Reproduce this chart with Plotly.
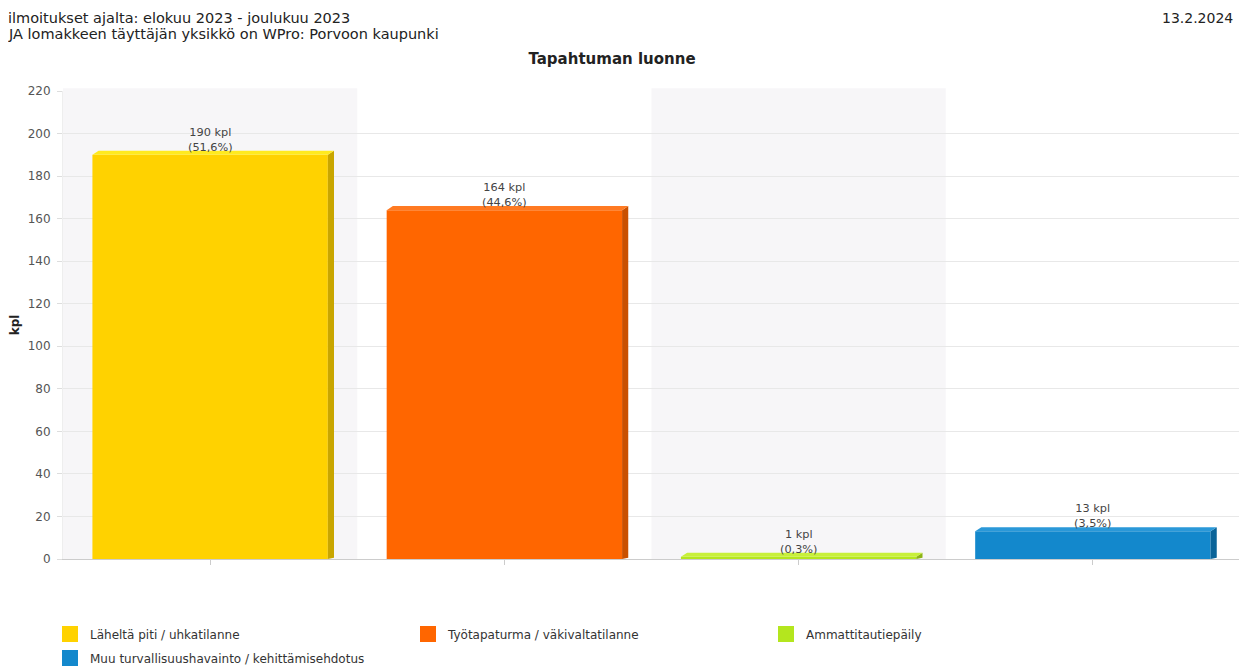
import plotly.graph_objects as go

categories = ["Läheltä piti / uhkatilanne", "Työtapaturma / väkivaltatilanne",
              "Ammattitautiepäily", "Muu turvallisuushavainto / kehittämisehdotus"]
values = [190, 164, 1, 13]
percent_labels = ["51,6%", "44,6%", "0,3%", "3,5%"]
front_colors = ["#FFD200", "#FF6600", "#B4E61E", "#1388CC"]
top_colors = ["#FFEA1F", "#FF7A22", "#C8F03A", "#2A98D8"]
side_colors = ["#C9A600", "#C95000", "#8DB415", "#0B6499"]
y_ticks = list(range(0, 221, 20))

FONT = "DejaVu Sans"
BAR_W = 0.8
DX = 0.021   # depth offset in x (category units)
DY = 1.9     # depth offset in y (value units)

# figure geometry (page body has an 8px margin)
W, H = 1239, 659
L, R, T, B = 55, 7, 83, 108
PH = H - T - B
PW = W - L - R

fig = go.Figure()

for i in range(len(categories)):
    if i % 2 == 0:
        fig.add_shape(type="rect", xref="x", yref="paper", x0=i - 0.5, x1=i + 0.5,
                      y0=0, y1=1.006, fillcolor="#F7F6F8", line_width=0, layer="below")

for i, (cat, v) in enumerate(zip(categories, values)):
    fig.add_trace(go.Bar(x=[i], y=[v], width=BAR_W, name=cat,
                         marker=dict(color=front_colors[i], line_width=0),
                         hoverinfo="skip", showlegend=False))
    xl, xr = i - BAR_W / 2, i + BAR_W / 2
    fig.add_trace(go.Scatter(x=[xr, xr + DX, xr + DX, xr, xr],
                             y=[0, DY * 0.3, v + DY, v, 0],
                             fill="toself", fillcolor=side_colors[i], mode="lines",
                             line=dict(width=0, color=side_colors[i]),
                             showlegend=False, hoverinfo="skip"))
    fig.add_trace(go.Scatter(x=[xl, xl + DX, xr + DX, xr, xl],
                             y=[v, v + DY, v + DY, v, v],
                             fill="toself", fillcolor=top_colors[i], mode="lines",
                             line=dict(width=0, color=top_colors[i]),
                             showlegend=False, hoverinfo="skip"))
    fig.add_annotation(x=i, y=v, xref="x", yref="y", yanchor="bottom",
                       text=f"{v} kpl<br>({percent_labels[i]})", showarrow=False,
                       yshift=-1, font=dict(family=FONT, size=11.3, color="#444444"))

# legend entries (square swatches)
for i, cat in enumerate(categories):
    fig.add_trace(go.Scatter(x=[None], y=[None], mode="markers", name=cat,
                             marker=dict(symbol="square", size=16, color=front_colors[i]),
                             showlegend=True, hoverinfo="skip",
                             legend="legend" if i < 3 else "legend2"))

legend_common = dict(orientation="h", xanchor="left", yanchor="middle",
                     xref="container", yref="container",
                     entrywidth=313, entrywidthmode="pixels", traceorder="normal",
                     font=dict(family=FONT, size=12, color="#333333"), itemwidth=30)

fig.update_layout(
    width=W, height=H,
    margin=dict(l=L, r=R, t=T, b=B),
    paper_bgcolor="white", plot_bgcolor="white",
    font=dict(family=FONT, size=11, color="#444444"),
    title=dict(text="<b>Tapahtuman luonne</b>", x=604 / W, xanchor="center", xref="container",
               y=1 - 51 / H, yanchor="middle", yref="container",
               font=dict(family=FONT, size=15, color="#222222")),
    xaxis=dict(range=[-0.5, len(categories) - 0.5], tickvals=list(range(len(categories))),
               ticktext=["" for _ in categories], ticks="outside", ticklen=5,
               tickcolor="#CCCCCC", showgrid=False, showline=True, linecolor="#CCCCCC",
               zeroline=False, fixedrange=True),
    yaxis=dict(range=[0, 220], tickvals=y_ticks, ticks="outside", ticklen=5,
               tickcolor="#DDDDDD", gridcolor="#E8E8E8", showline=True, linecolor="#EEEEEE",
               zeroline=False, tickfont=dict(family=FONT, size=12, color="#555555"),
               ticklabelstandoff=4,
               title=dict(text="<b>kpl</b>", font=dict(family=FONT, size=12, color="#222222"),
                          standoff=5)),
    legend=dict(x=42 / W, y=1 - 626 / H, **legend_common),
    legend2=dict(x=42 / W, y=1 - 650 / H, **legend_common),
    showlegend=True,
)

fig.add_annotation(text="ilmoitukset ajalta: elokuu 2023 - joulukuu 2023",
                   xref="paper", yref="paper", x=-(L + 2) / PW, y=1 + (T - 9.5) / PH,
                   xanchor="left", yanchor="middle", showarrow=False,
                   font=dict(family=FONT, size=14.5, color="#222222"))
fig.add_annotation(text="JA lomakkeen täyttäjän yksikkö on WPro: Porvoon kaupunki",
                   xref="paper", yref="paper", x=-(L + 2) / PW, y=1 + (T - 26.5) / PH,
                   xanchor="left", yanchor="middle", showarrow=False,
                   font=dict(family=FONT, size=14.5, color="#222222"))
fig.add_annotation(text="13.2.2024", xref="paper", yref="paper", x=1 - 6 / PW,
                   y=1 + T / PH, xanchor="right", yanchor="top", showarrow=False,
                   borderpad=0, yshift=-1,
                   font=dict(family=FONT, size=14, color="#222222"))

fig.write_html("out.html")
